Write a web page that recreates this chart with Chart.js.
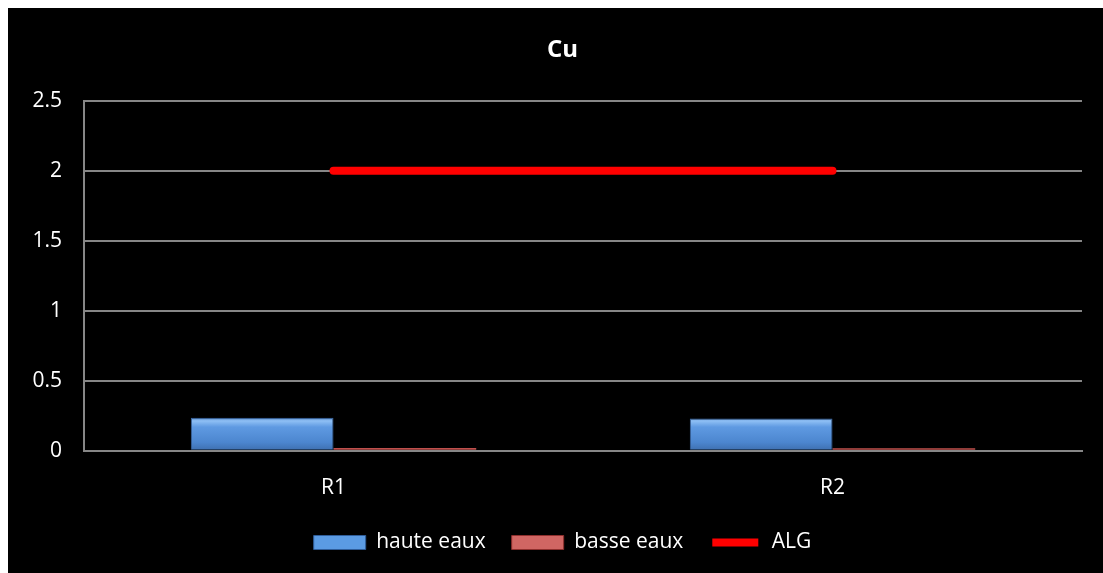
<!DOCTYPE html>
<html>
<head>
<meta charset="utf-8">
<script src="https://cdn.jsdelivr.net/npm/chart.js@4.4.1/dist/chart.umd.min.js"></script>
<style>
	html, body { margin: 0; padding: 0; background: #fff; }
	#wrap { position: absolute; left: 8px; top: 8px; width: 1095px; height: 565px; background: #000; }
</style>
</head>
<body>
<div id="wrap"><canvas id="chart"></canvas></div>
<script>
// data
const categories = ["R1", "R2"];
const hauteEaux = [0.236, 0.23];
const basseEaux = [0.02, 0.018];
const algLimit = [2, 2];
const yTicks = [0, 0.5, 1, 1.5, 2, 2.5];

const FONT = "'Open Sans', sans-serif";

function blueFill(ctx) {
	const area = ctx.chart.chartArea;
	const c = ctx.chart.ctx;
	if (!area) return "#4f81bd";
	const g = c.createLinearGradient(0, area.bottom - 34, 0, area.bottom);
	g.addColorStop(0, "#3f72b8");
	g.addColorStop(0.12, "#8fc0f5");
	g.addColorStop(0.3, "#5f9ae2");
	g.addColorStop(0.75, "#4c86cf");
	g.addColorStop(1, "#3d6eae");
	return g;
}

const chart = new Chart(document.getElementById("chart"), {
	data: {
		labels: categories,
		datasets: [
			{
				type: "bar",
				label: "haute eaux",
				data: hauteEaux,
				backgroundColor: blueFill,
				borderColor: "#3a68a6",
				borderWidth: 1,
				categoryPercentage: 0.572,
				barPercentage: 1,
				order: 2,
			},
			{
				type: "bar",
				label: "basse eaux",
				data: basseEaux,
				backgroundColor: "#c0504d",
				borderWidth: 0,
				categoryPercentage: 0.572,
				barPercentage: 1,
				order: 2,
			},
			{
				type: "line",
				label: "ALG",
				data: algLimit,
				borderColor: "#ff0000",
				backgroundColor: "#ff0000",
				borderWidth: 8,
				borderCapStyle: "round",
				pointRadius: 0,
				fill: false,
				order: 1,
			},
		],
	},
	options: {
		responsive: true,
		maintainAspectRatio: false,
		animation: false,
		layout: { padding: { left: 14, right: 0, top: 20, bottom: 10 } },
		plugins: {
			title: {
				display: true,
				text: "Cu",
				color: "#ffffff",
				font: { family: FONT, size: 24, weight: "bold" },
				padding: { top: 8, bottom: 36 },
			},
			legend: {
				position: "bottom",
				labels: {
					color: "#ffffff",
					font: { family: FONT, size: 21 },
					boxWidth: 52,
					boxHeight: 14,
					padding: 26,
					generateLabels(chart) {
						return chart.data.datasets.map((ds, i) => {
							let fill, stroke, lw;
							if (i === 0) {
								fill = "#5b9be3";
								stroke = "#2f5d99";
								lw = 1;
							} else if (i === 1) {
								fill = "#d06663";
								stroke = "#8e2f2d";
								lw = 1;
							} else {
								fill = "#ff0000";
								stroke = "#000000";
								lw = 6;
							}
							return {
								text: ds.label,
								fillStyle: fill,
								strokeStyle: stroke,
								lineWidth: lw,
								fontColor: "#ffffff",
								datasetIndex: i,
								hidden: false,
							};
						});
					},
				},
			},
			tooltip: { enabled: false },
		},
		scales: {
			x: {
				grid: { display: false, drawTicks: false },
				border: { display: true, color: "#868686", width: 2 },
				ticks: { color: "#ffffff", font: { family: FONT, size: 21 }, padding: 25 },
				afterFit(scale) {
					scale.height = scale.height - 20;
				},
			},
			y: {
				min: 0,
				max: 2.5,
				afterBuildTicks(scale) {
					scale.ticks = yTicks.map((v) => ({ value: v }));
				},
				afterFit(scale) {
					scale.width = 62;
				},
				grid: { color: "#868686", lineWidth: 2, drawTicks: false },
				border: { display: true, color: "#868686", width: 2 },
				ticks: {
					color: "#ffffff",
					font: { family: FONT, size: 21 },
					padding: 22,
					callback: (v) => String(v),
				},
			},
			// empty right-hand axis, only reserves the gap after the plot
			yRight: {
				position: "right",
				display: true,
				min: 0,
				max: 2.5,
				grid: { display: false, drawTicks: false },
				border: { display: false },
				ticks: { display: false },
				afterFit(scale) {
					scale.width = 21;
				},
			},
		},
	},
});
</script>
</body>
</html>
